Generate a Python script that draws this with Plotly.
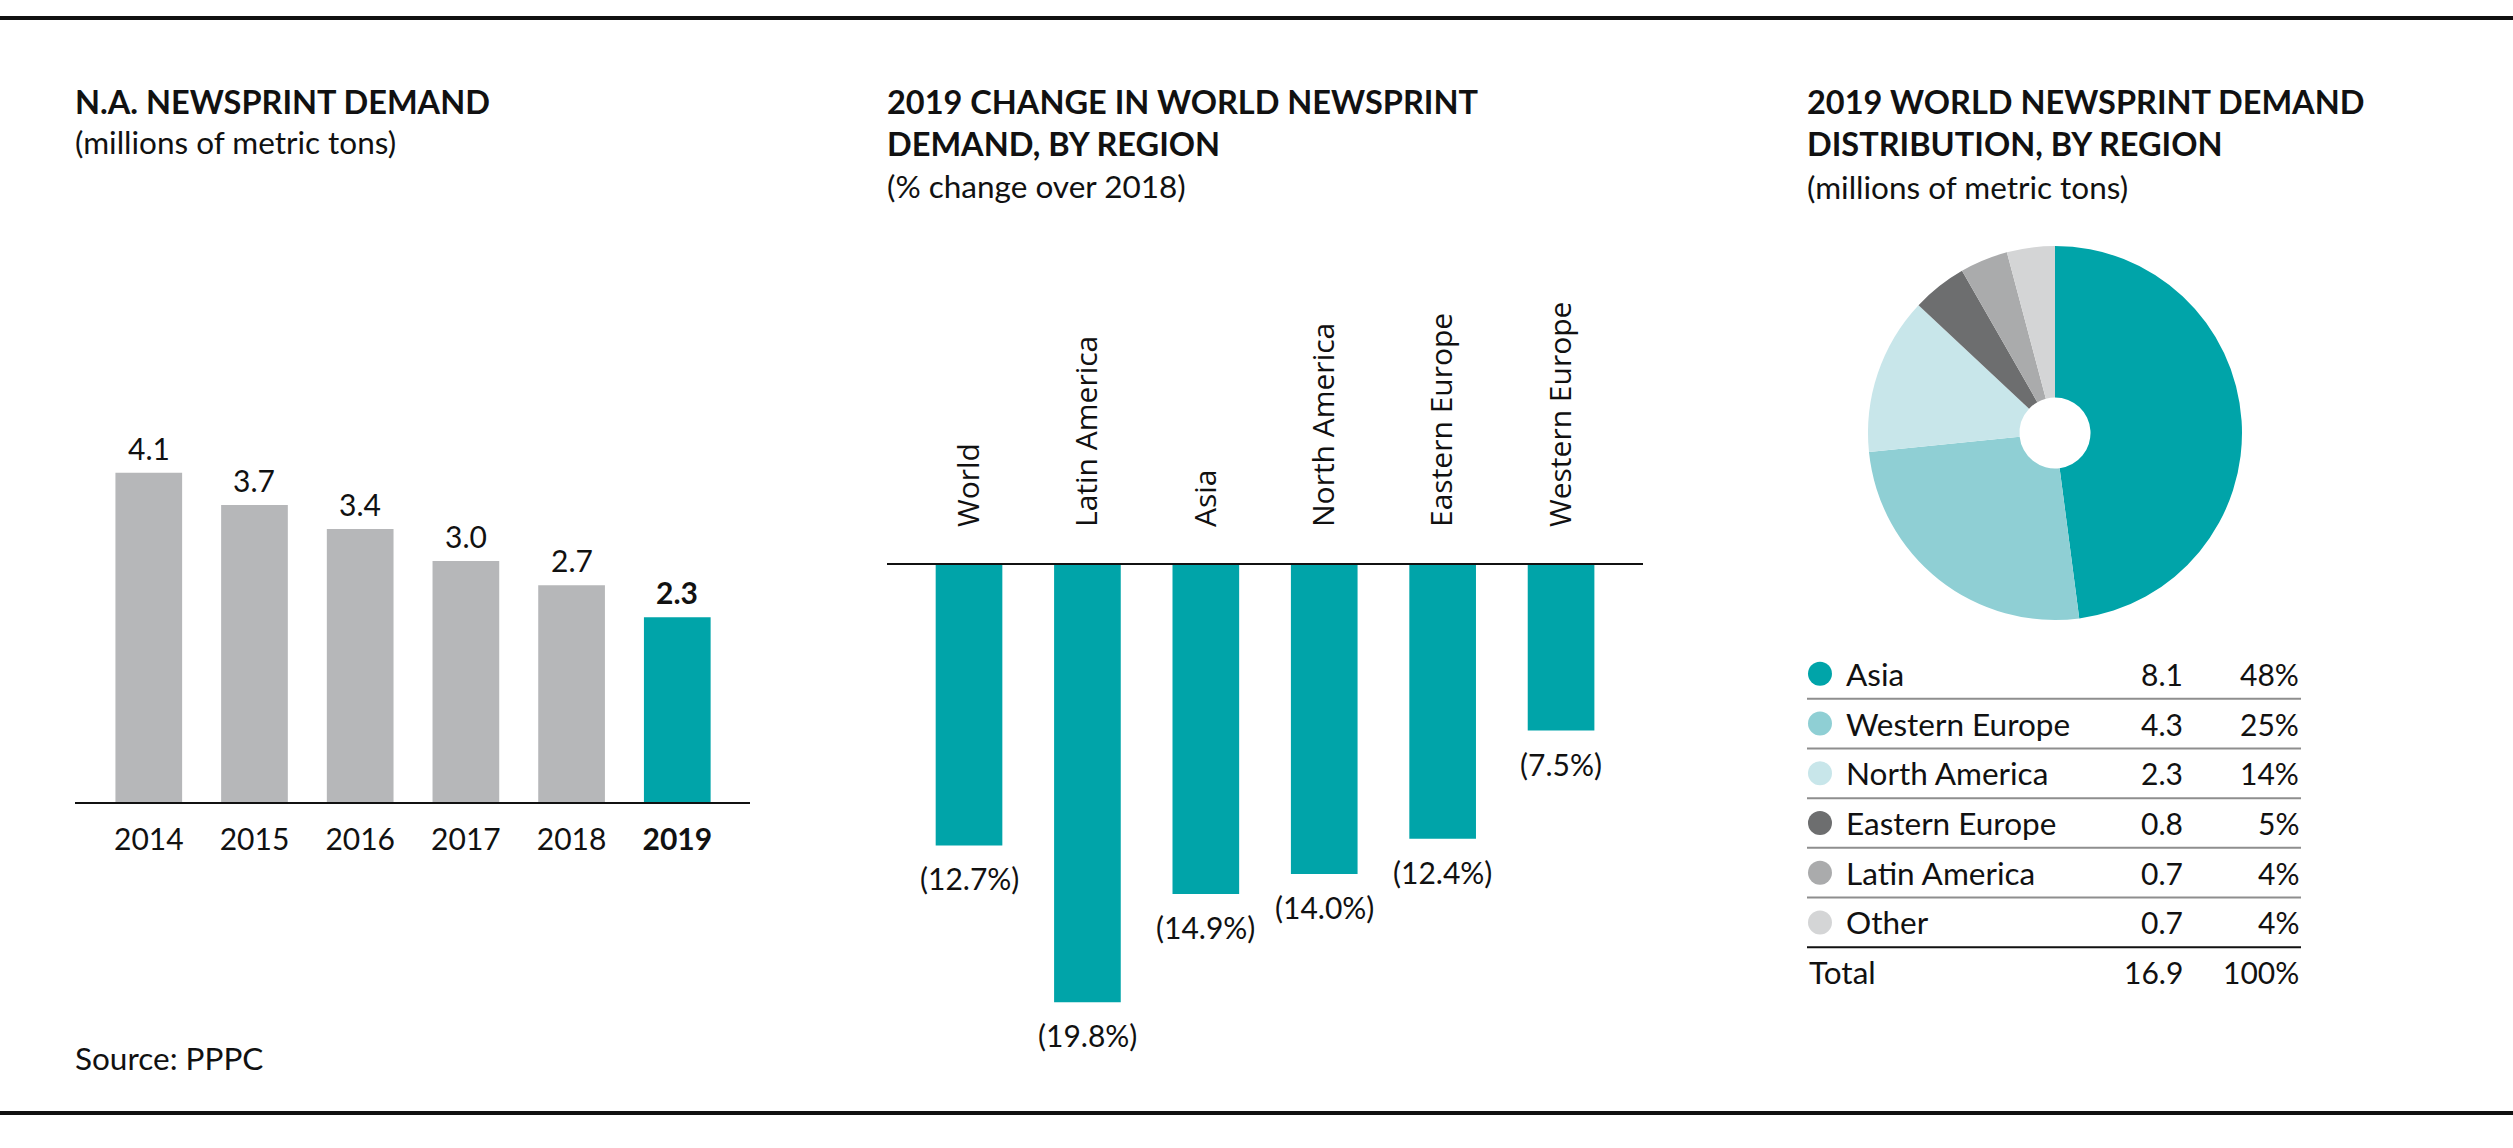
import plotly.graph_objects as go

W, H = 2513, 1148

# ---------------- data ----------------
years = ["2014", "2015", "2016", "2017", "2018", "2019"]
na_demand = [4.1, 3.7, 3.4, 3.0, 2.7, 2.3]

change_regions = ["World", "Latin America", "Asia", "North America", "Eastern Europe", "Western Europe"]
change_pct = [-12.7, -19.8, -14.9, -14.0, -12.4, -7.5]

dist_regions = ["Asia", "Western Europe", "North America", "Eastern Europe", "Latin America", "Other"]
dist_values = [8.1, 4.3, 2.3, 0.8, 0.7, 0.7]
dist_pct = ["48%", "25%", "14%", "5%", "4%", "4%"]
total_label = "Total"
total_value = "16.9"
total_pct = "100%"

# ---------------- styles ----------------
TEAL = "#00A4A9"
GRAY_BAR = "#B6B7B9"
dist_colors = ["#00A4A9", "#8FCFD4", "#C8E6EA", "#6D6E6F", "#AAABAC", "#D4D5D6"]
INK = "#111111"
BODY = "Lato, 'Open Sans', sans-serif"
LABEL = "'Open Sans', 'Noto Sans', sans-serif"
NUM_SIZE = 30
TEXT_SIZE = 31.5
TITLE_SIZE = 32.5


def px(x):
    return x / W


def py(y):
    return 1 - y / H


fig = go.Figure()

# ---------- left: N.A. newsprint demand ----------
fig.add_trace(go.Bar(
    x=years, y=na_demand, width=0.631,
    marker=dict(color=[GRAY_BAR] * (len(years) - 1) + [TEAL], line=dict(width=0)),
    xaxis="x", yaxis="y", hoverinfo="skip",
))

# ---------- middle: change by region ----------
fig.add_trace(go.Bar(
    x=change_regions, y=change_pct, width=0.563,
    marker=dict(color=TEAL, line=dict(width=0)),
    xaxis="x2", yaxis="y2", hoverinfo="skip",
))

# ---------- right: distribution pie ----------
fig.add_trace(go.Pie(
    values=dist_values, labels=dist_regions, sort=False,
    direction="clockwise", rotation=0, hole=0.19,
    marker=dict(colors=dist_colors, line=dict(width=0)),
    textinfo="none", hoverinfo="skip",
    domain=dict(x=[px(1868), px(2242)], y=[py(620), py(246)]),
))

# legend table dots
DOT_X, LABEL_X, VALUE_X, PCT_X = 0.0263, 0.0749, 0.7652, 1.0
fig.add_trace(go.Scatter(
    x=[DOT_X] * len(dist_regions), y=list(range(len(dist_regions))),
    mode="markers", marker=dict(size=24, color=dist_colors, line=dict(width=0)),
    xaxis="x3", yaxis="y3", hoverinfo="skip",
))

annotations = []
shapes = []

# bar value labels (left) -- category axis positions by index
for i, v in enumerate(na_demand):
    txt = f"{v:.1f}"
    if i == len(na_demand) - 1:
        txt = f"<b>{txt}</b>"
    annotations.append(dict(
        x=i, y=v, xref="x", yref="y", text=txt, showarrow=False,
        yanchor="middle", xanchor="center", yshift=25,
        font=dict(family=BODY, size=NUM_SIZE, color=INK),
    ))

# bar value labels (middle)
for i, v in enumerate(change_pct):
    annotations.append(dict(
        x=i, y=v, xref="x2", yref="y2", text=f"({abs(v):.1f}%)", showarrow=False,
        yanchor="middle", xanchor="center", yshift=-33,
        font=dict(family=BODY, size=NUM_SIZE, color=INK),
    ))

# table rows
rows = list(zip(dist_regions, [f"{v:.1f}" for v in dist_values], dist_pct)) + [(total_label, total_value, total_pct)]
for i, (lab, val, pct) in enumerate(rows):
    lx = LABEL_X if i < len(dist_regions) else 0.0
    annotations.append(dict(x=lx, y=i, xref="x3", yref="y3", text=lab, showarrow=False,
                            xanchor="left", yanchor="middle",
                            font=dict(family=BODY, size=TEXT_SIZE, color=INK)))
    annotations.append(dict(x=VALUE_X, y=i, xref="x3", yref="y3", text=val, showarrow=False,
                            xanchor="right", yanchor="middle",
                            font=dict(family=BODY, size=NUM_SIZE, color=INK)))
    annotations.append(dict(x=PCT_X, y=i, xref="x3", yref="y3", text=pct, showarrow=False,
                            xanchor="right", yanchor="middle",
                            font=dict(family=BODY, size=NUM_SIZE, color=INK)))

for i in range(len(dist_regions)):
    last = i == len(dist_regions) - 1
    shapes.append(dict(type="line", xref="x3", yref="y3", x0=0, x1=1, y0=i + 0.5, y1=i + 0.5,
                       line=dict(color=INK if last else "#8E8E8E", width=2)))


# titles
def title(x, y, text, bold=True):
    annotations.append(dict(
        x=px(x), y=py(y), xref="paper", yref="paper", text=f"<b>{text}</b>" if bold else text,
        showarrow=False, xanchor="left", yanchor="middle",
        font=dict(family=BODY, size=TITLE_SIZE if bold else TEXT_SIZE, color=INK),
    ))


title(73, 101, "N.A. NEWSPRINT DEMAND")
title(73, 142, "(millions of metric tons)", bold=False)
title(885, 101, "2019 CHANGE IN WORLD NEWSPRINT")
title(885, 143, "DEMAND, BY REGION")
title(885, 186, "(% change over 2018)", bold=False)
title(1805, 101, "2019 WORLD NEWSPRINT DEMAND")
title(1805, 144, "DISTRIBUTION, BY REGION")
title(1805, 187, "(millions of metric tons)", bold=False)
title(73, 1058, "Source: PPPC", bold=False)

# top & bottom rules
for yy in (18, 1113):
    shapes.append(dict(type="line", xref="paper", yref="paper", x0=0, x1=1, y0=py(yy), y1=py(yy),
                       line=dict(color=INK, width=4)))

fig.update_layout(
    width=W, height=H, margin=dict(l=0, r=0, t=0, b=0),
    paper_bgcolor="white", plot_bgcolor="white", showlegend=False,
    font=dict(family=BODY, size=NUM_SIZE, color=INK),
    xaxis=dict(domain=[px(75), px(750)], range=[-0.698, 5.688], type="category",
               showline=True, linecolor=INK, linewidth=2, showgrid=False, zeroline=False,
               ticks="outside", ticklen=10, tickcolor="rgba(0,0,0,0)",
               tickmode="array", tickvals=years,
               ticktext=years[:-1] + [f"<b>{years[-1]}</b>"],
               tickfont=dict(family=BODY, size=NUM_SIZE, color=INK), fixedrange=True),
    yaxis=dict(domain=[py(802), py(400)], range=[0, 402 / 80.3], visible=False, fixedrange=True),
    xaxis2=dict(domain=[px(887), px(1643)], range=[-0.6926, 5.692], type="category", side="top",
                anchor="y2", showline=True, linecolor=INK, linewidth=2, showgrid=False, zeroline=False,
                ticks="outside", ticklen=30, tickcolor="rgba(0,0,0,0)", tickangle=-90,
                tickfont=dict(family=LABEL, size=30, color=INK), fixedrange=True),
    yaxis2=dict(domain=[py(1065), py(565)], range=[-500 / 22.08, 0], visible=False, anchor="x2",
                fixedrange=True),
    xaxis3=dict(domain=[px(1807), px(2301)], range=[0, 1], visible=False, anchor="y3", fixedrange=True),
    yaxis3=dict(domain=[py(997), py(649)], range=[6.5, -0.5], visible=False, anchor="x3", fixedrange=True),
    annotations=annotations, shapes=shapes,
)

fig.write_html("out.html", config={"displayModeBar": False},
               post_script="document.body.style.margin='0';")
